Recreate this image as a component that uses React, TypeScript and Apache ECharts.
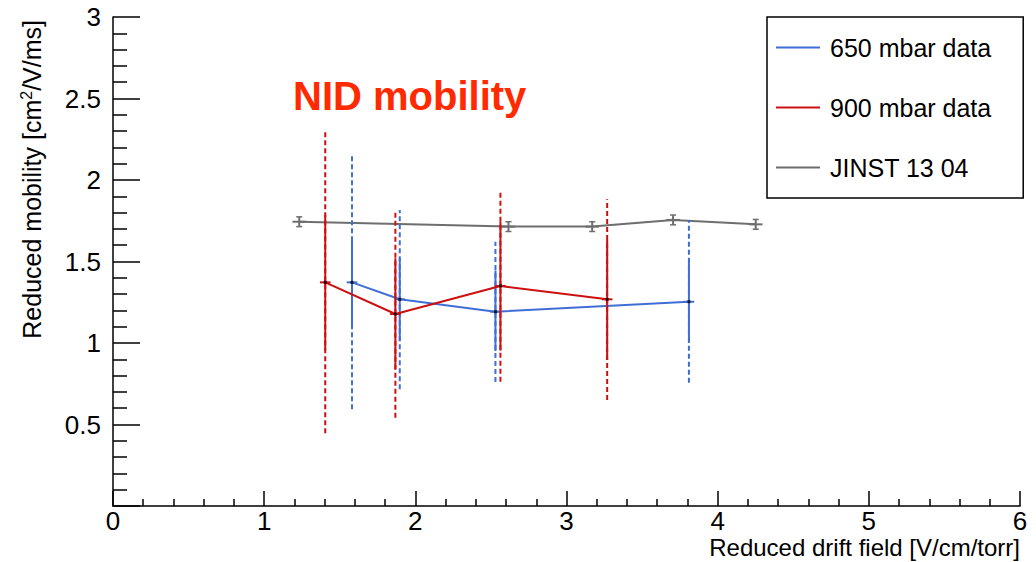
import React, { useEffect, useRef } from "react";
import * as echarts from "echarts";

// 650 mbar data
const blueX = [1.581, 1.897, 2.53, 3.81];
const blueY = [1.372, 1.268, 1.192, 1.253];
const blueStatLo = [1.1, 1.014, 0.951, 1.002];
const blueStatHi = [1.648, 1.52, 1.445, 1.505];
const blueSysLo = [0.593, 0.716, 0.761, 0.756];
const blueSysHi = [2.16, 1.816, 1.621, 1.755];
const blueXErr = [0.035, 0.035, 0.035, 0.035];

// 900 mbar data
const redX = [1.404, 1.868, 2.563, 3.269];
const redY = [1.372, 1.178, 1.35, 1.268];
const redStatLo = [0.957, 0.839, 0.953, 0.896];
const redStatHi = [1.785, 1.52, 1.744, 1.632];
const redSysLo = [0.446, 0.542, 0.763, 0.65];
const redSysHi = [2.296, 1.816, 1.933, 1.882];
const redXErr = [0.035, 0.035, 0.035, 0.035];

// JINST 13 04
const grayX = [1.232, 2.616, 3.17, 3.705, 4.252];
const grayY = [1.744, 1.714, 1.714, 1.755, 1.728];
const grayYErr = [0.03, 0.03, 0.03, 0.03, 0.03];
const grayXErr = [0.045, 0.045, 0.045, 0.045, 0.045];

const xTicks = [0, 1, 2, 3, 4, 5, 6];
const yTicks = [0, 0.5, 1, 1.5, 2, 2.5, 3];

const BLUE = "#3f6fd6";
const RED = "#cc1010";
const GRAY = "#6e6e6e";
const FONT = "'Liberation Sans', Arial, Helvetica, sans-serif";

function pairs(xs: number[], ys: number[]) {
  return xs.map((x, i) => [x, ys[i]]);
}

function errRows(xs: number[], ys: number[], lo: number[], hi: number[], xe: number[]) {
  return xs.map((x, i) => [x, ys[i], lo[i], hi[i], xe[i]]);
}

function makeErr(color: string, dashed: boolean, caps: boolean, showX: boolean) {
  return (params: any, api: any) => {
    const x = api.value(0);
    const y = api.value(1);
    const lo = api.value(2);
    const hi = api.value(3);
    const xe = api.value(4);
    const pLo = api.coord([x, lo]);
    const pHi = api.coord([x, hi]);
    const style: any = { stroke: color, lineWidth: 2 };
    if (dashed) style.lineDash = [5, 3];
    const children: any[] = [
      { type: "line", shape: { x1: pLo[0], y1: pLo[1], x2: pHi[0], y2: pHi[1] }, style },
    ];
    if (showX) {
      const pL = api.coord([x - xe, y]);
      const pR = api.coord([x + xe, y]);
      children.push({
        type: "line",
        shape: { x1: pL[0], y1: pL[1], x2: pR[0], y2: pR[1] },
        style: { stroke: color, lineWidth: 2 },
      });
    }
    if (caps) {
      children.push({
        type: "line",
        shape: { x1: pLo[0] - 3, y1: pLo[1], x2: pLo[0] + 3, y2: pLo[1] },
        style: { stroke: color, lineWidth: 1.5 },
      });
      children.push({
        type: "line",
        shape: { x1: pHi[0] - 3, y1: pHi[1], x2: pHi[0] + 3, y2: pHi[1] },
        style: { stroke: color, lineWidth: 1.5 },
      });
    }
    return { type: "group", children };
  };
}

export default function App() {
  const ref = useRef<HTMLDivElement>(null);
  useEffect(() => {
    if (!ref.current) return;
    const chart = echarts.init(ref.current, null, { renderer: "svg" });
    const grayLo = grayY.map((v, i) => v - grayYErr[i]);
    const grayHi = grayY.map((v, i) => v + grayYErr[i]);
    const option: any = {
      animation: false,
      backgroundColor: "#ffffff",
      textStyle: { fontFamily: FONT },
      grid: { left: 113, right: 16, top: 17, bottom: 56, containLabel: false },
      xAxis: {
        type: "value",
        min: xTicks[0],
        max: xTicks[xTicks.length - 1],
        interval: 1,
        axisLine: { show: true, lineStyle: { color: "#000", width: 1.5 } },
        axisTick: { show: true, inside: true, length: 15, lineStyle: { color: "#000", width: 1.5 } },
        minorTick: { show: true, splitNumber: 5, length: 7, lineStyle: { color: "#000", width: 1.5 } },
        splitLine: { show: false },
        axisLabel: { color: "#000", fontSize: 26, fontFamily: FONT, margin: 4, lineHeight: 22 },
      },
      yAxis: {
        type: "value",
        min: yTicks[0],
        max: yTicks[yTicks.length - 1],
        interval: 0.5,
        axisLine: { show: true, lineStyle: { color: "#000", width: 1.5 } },
        axisTick: { show: true, inside: true, length: 27, lineStyle: { color: "#000", width: 1.5 } },
        minorTick: { show: true, splitNumber: 5, length: 14, lineStyle: { color: "#000", width: 1.5 } },
        splitLine: { show: false },
        axisLabel: { color: "#000", fontSize: 26, fontFamily: FONT, margin: 12, showMinLabel: false },
      },
      legend: {
        data: ["650 mbar data", "900 mbar data", "JINST 13 04"],
        orient: "vertical",
        left: 767,
        top: 17,
        padding: [17, 32, 17, 9],
        itemGap: 33,
        itemWidth: 44,
        itemHeight: 2,
        icon: "rect",
        borderColor: "#000",
        borderWidth: 1.5,
        borderRadius: 0,
        backgroundColor: "#fff",
        textStyle: {
          fontSize: 25,
          color: "#000",
          fontFamily: FONT,
          padding: [0, 0, 0, 5],
          lineHeight: 27,
        },
      },
      graphic: [
        {
          type: "text",
          x: 293,
          y: 96,
          style: {
            text: "NID mobility",
            fill: "#ff2a00",
            font: `bold 40px ${FONT}`,
            align: "left",
            verticalAlign: "middle",
          },
        },
        {
          type: "text",
          x: 1020,
          y: 547,
          style: {
            text: "Reduced drift field [V/cm/torr]",
            fill: "#000",
            font: `24px ${FONT}`,
            align: "right",
            verticalAlign: "middle",
          },
        },
        {
          type: "text",
          x: 32,
          y: 20,
          rotation: Math.PI / 2,
          style: {
            text: "{a|Reduced mobility [cm}{s|2}{a|/V/ms]}",
            align: "right",
            verticalAlign: "middle",
            rich: {
              a: { fontSize: 25, fontFamily: FONT, fill: "#000", color: "#000", height: 30 },
              s: { fontSize: 16, fontFamily: FONT, fill: "#000", color: "#000", padding: [0, 0, 12, 0], height: 30 },
            },
          },
        },
      ],
      series: [
        {
          name: "JINST 13 04",
          type: "line",
          data: pairs(grayX, grayY),
          symbol: "none",
          lineStyle: { color: GRAY, width: 2 },
          itemStyle: { color: GRAY },
          z: 2,
        },
        {
          name: "grayErr",
          type: "custom",
          data: errRows(grayX, grayY, grayLo, grayHi, grayXErr),
          renderItem: makeErr(GRAY, false, true, true),
          encode: { x: 0, y: 1 },
          z: 2,
        },
        {
          name: "650 mbar data",
          type: "line",
          data: pairs(blueX, blueY),
          symbol: "none",
          lineStyle: { color: BLUE, width: 2 },
          itemStyle: { color: BLUE },
          z: 3,
        },
        {
          name: "blueSys",
          type: "custom",
          data: errRows(blueX, blueY, blueSysLo, blueSysHi, blueXErr),
          renderItem: makeErr(BLUE, true, false, false),
          encode: { x: 0, y: 1 },
          z: 3,
        },
        {
          name: "blueStat",
          type: "custom",
          data: errRows(blueX, blueY, blueStatLo, blueStatHi, blueXErr),
          renderItem: makeErr(BLUE, false, false, true),
          encode: { x: 0, y: 1 },
          z: 3,
        },
        {
          name: "900 mbar data",
          type: "line",
          data: pairs(redX, redY),
          symbol: "none",
          lineStyle: { color: RED, width: 2 },
          itemStyle: { color: RED },
          z: 4,
        },
        {
          name: "redSys",
          type: "custom",
          data: errRows(redX, redY, redSysLo, redSysHi, redXErr),
          renderItem: makeErr(RED, true, false, false),
          encode: { x: 0, y: 1 },
          z: 4,
        },
        {
          name: "redStat",
          type: "custom",
          data: errRows(redX, redY, redStatLo, redStatHi, redXErr),
          renderItem: makeErr(RED, false, false, true),
          encode: { x: 0, y: 1 },
          z: 4,
        },
        {
          name: "markers",
          type: "scatter",
          data: [...pairs(blueX, blueY), ...pairs(redX, redY)],
          symbol: "rect",
          symbolSize: 3,
          itemStyle: { color: "#000" },
          z: 5,
        },
      ],
    };
    chart.setOption(option);
    return () => chart.dispose();
  }, []);
  return (
    <div
      ref={ref}
      style={{ position: "fixed", left: 0, top: 0, width: 1036, height: 562, background: "#fff" }}
    />
  );
}
